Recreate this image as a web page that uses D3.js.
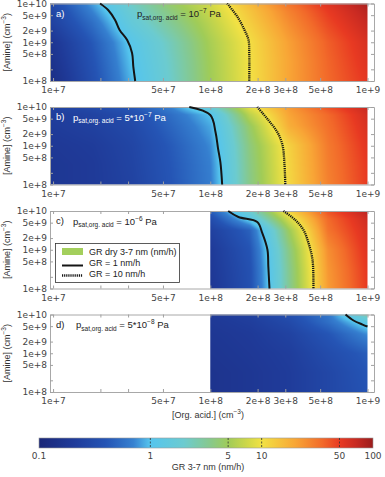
<!DOCTYPE html>
<html>
<head>
<meta charset="utf-8">
<script src="https://cdn.jsdelivr.net/npm/d3@7"></script>
<style>
  body { margin: 0; background: #fff; }
  svg { display: block; font-family: "Liberation Sans", Arial, sans-serif; }
  .axis .domain { stroke: #a8a8a8; }
  .axis line { stroke: #a0a0a0; }
  .axis text, .cblab { fill: #444; font-size: 9px; font-family: "DejaVu Sans", sans-serif; }
</style>
</head>
<body>
<svg id="chart" width="385" height="477"></svg>
<script>
// model grid: org. acid and amine concentrations (cm^-3)
const orgAcid = [1e7, 1.78e7, 3.16e7, 5.62e7, 1e8, 1.78e8, 3.16e8, 5.62e8, 1e9];
const amine = [1e8, 3.16e8, 1e9, 3.16e9, 6.31e9, 1e10];

// GR 3-7 nm (nm/h): one row per amine value, one column per org. acid value
const grA = [
  [0.14, 0.35, 0.93, 2.1, 5.0, 10, 20, 35, 52],
  [0.16, 0.38, 1.02, 2.2, 5.1, 10.2, 20, 36, 56],
  [0.18, 0.42, 1.12, 2.4, 5.4, 10.5, 21, 38, 60],
  [0.25, 0.56, 1.6, 3.2, 6.3, 12.6, 25, 45, 71],
  [0.28, 0.71, 1.9, 3.8, 7.1, 14, 28, 50, 79],
  [0.32, 0.83, 2.2, 4.5, 7.6, 16, 32, 56, 89]
];
const grB = [
  [0.18, 0.20, 0.25, 0.40, 0.67, 3.5, 11.2, 28, 50],
  [0.18, 0.20, 0.26, 0.41, 0.69, 3.6, 11.5, 29, 51],
  [0.19, 0.21, 0.27, 0.43, 0.74, 3.8, 12, 30, 54],
  [0.21, 0.24, 0.30, 0.50, 0.86, 4.5, 17.8, 33, 59],
  [0.22, 0.25, 0.33, 0.56, 1.0, 6.3, 20, 35, 63],
  [0.25, 0.30, 0.42, 0.71, 1.78, 9, 22, 42, 71]
];
const grC = [
  [null, null, null, null, 0.18, 0.35, 3.2, 22, 50],
  [null, null, null, null, 0.19, 0.36, 3.3, 23, 52],
  [null, null, null, null, 0.20, 0.39, 3.6, 25, 56],
  [null, null, null, null, 0.24, 0.47, 4.8, 32, 60],
  [null, null, null, null, 0.32, 1.2, 7.9, 35, 66],
  [null, null, null, null, 0.45, 2.0, 12, 42, 79]
];
const grD = [
  [null, null, null, null, 0.16, 0.18, 0.21, 0.28, 0.38],
  [null, null, null, null, 0.16, 0.18, 0.21, 0.28, 0.40],
  [null, null, null, null, 0.17, 0.19, 0.22, 0.32, 0.45],
  [null, null, null, null, 0.18, 0.20, 0.25, 0.40, 0.76],
  [null, null, null, null, 0.19, 0.22, 0.30, 0.56, 1.32],
  [null, null, null, null, 0.20, 0.24, 0.35, 0.63, 2.8]
];

// contour lines: [org. acid, amine]
const gr1A = [[1.99e7, 1e10], [2.24e7, 6.8e9], [2.48e7, 3.75e9], [2.65e7, 2.07e9], [2.96e7, 1.14e9], [3.18e7, 5.3e8], [3.24e7, 2.3e8], [3.33e7, 1e8]];
const gr10A = [[1.28e8, 1e10], [1.49e8, 4.5e9], [1.65e8, 2.07e9], [1.75e8, 1.14e9], [1.77e8, 5.3e8], [1.77e8, 1e8]];
const gr1B = [[7.35e7, 1e10], [1.0e8, 6.2e9], [1.08e8, 2.24e9], [1.12e8, 8.6e8], [1.16e8, 3.7e8], [1.19e8, 1e8]];
const gr10B = [[1.99e8, 1e10], [2.34e8, 4.6e9], [2.67e8, 2.24e9], [2.88e8, 1.03e9], [2.96e8, 3.7e8], [3.0e8, 1e8]];
const gr1C = [[1.30e8, 1e10], [1.51e8, 7.0e9], [1.99e8, 5.2e9], [2.14e8, 2.73e9], [2.31e8, 1e9], [2.34e8, 3.66e8], [2.38e8, 1e8]];
const gr10C = [[2.92e8, 1e10], [3.47e8, 5.9e9], [3.91e8, 3.26e9], [4.21e8, 1.51e9], [4.47e8, 5.5e8], [4.53e8, 1e8]];
const gr1D = [[7.25e8, 1e10], [8.15e8, 7.0e9], [9.3e8, 5.5e9], [1e9, 4.9e9]];
const gr10D = [];

const panelLabels = ["a)", "b)", "c)", "d)"];
const psatMantissa = ["10", "5*10", "10", "5*10"];
const psatExponent = ["\u22127", "\u22127", "\u22126", "\u22128"];

// axis ticks
const xTicks = [1e7, 2e7, 3e7, 5e7, 1e8, 2e8, 3e8, 5e8, 1e9];
const xTickLabels = [1e7, 5e7, 1e8, 2e8, 3e8, 5e8, 1e9];
const yTicks = [1e8, 2e8, 5e8, 1e9, 2e9, 5e9, 1e10];
const yTickLabels = [1e8, 5e8, 1e9, 2e9, 5e9, 1e10];
const xLimits = [9.56e6, 1.1e9];

// colour bar
const cbTicks = [0.1, 1, 5, 10, 50, 100];
const cmapGR = [0.1, 0.2, 0.4, 0.7, 1, 2, 3.5, 5, 7.5, 10, 20, 35, 50, 70, 100];
const cmapColors = ["#1a2778", "#1f3a98", "#2555b5", "#3680d0", "#55c5ee", "#6ccbd0", "#88c98a",
                    "#a0cc58", "#d0d848", "#f2e244", "#f8a636", "#f26a2a", "#e83a22", "#c82a22", "#9a1c1c"];

const fields = [grA, grB, grC, grD];
const gr1Lines = [gr1A, gr1B, gr1C, gr1D];
const gr10Lines = [gr10A, gr10B, gr10C, gr10D];

const svg = d3.select("#chart");
const panelTops = [3.5, 107, 211, 314.5];
const panelH = 77.5;
const boxL = 50, boxR = 374;

const color = d3.scaleLog().domain(cmapGR).range(cmapColors).clamp(true);
const x = d3.scaleLog().domain(xLimits).range([boxL, boxR]);

const sciFmt = v => {
  const e = Math.floor(Math.log10(v) + 1e-9);
  return Math.round(v / Math.pow(10, e)) + "e+" + e;
};

const lgX = orgAcid.map(Math.log10);
const lgY = amine.map(Math.log10);

// bilinear interpolation in log space (like shading interp)
function grAt(field, ox, am) {
  const lx = Math.max(lgX[0], Math.min(lgX[lgX.length - 1], Math.log10(ox)));
  const ly = Math.max(lgY[0], Math.min(lgY[lgY.length - 1], Math.log10(am)));
  let i = Math.min(d3.bisectRight(lgX, lx) - 1, lgX.length - 2);
  let j = Math.min(d3.bisectRight(lgY, ly) - 1, lgY.length - 2);
  const v00 = field[j][i], v10 = field[j][i + 1], v01 = field[j + 1][i], v11 = field[j + 1][i + 1];
  if (v00 == null || v10 == null || v01 == null || v11 == null) return null;
  const tx = (lx - lgX[i]) / (lgX[i + 1] - lgX[i]);
  const ty = (ly - lgY[j]) / (lgY[j + 1] - lgY[j]);
  const l = (1 - tx) * (1 - ty) * Math.log10(v00) + tx * (1 - ty) * Math.log10(v10)
          + (1 - tx) * ty * Math.log10(v01) + tx * ty * Math.log10(v11);
  return Math.pow(10, l);
}

function supText(sel, base, sup, tail, size, supSize) {
  sel.append("tspan").text(base);
  sel.append("tspan").attr("font-size", supSize).attr("dy", -size * 0.4).text(sup);
  sel.append("tspan").attr("dy", size * 0.4).text(tail);
}

fields.forEach((field, p) => {
  const top = panelTops[p];
  const y = d3.scaleLog().domain([1e8, 1e10]).range([top + panelH, top]);
  const g = svg.append("g");
  const firstCol = field[0].findIndex(d => d != null);

  // field image
  const x0 = firstCol > 0 ? x(orgAcid[firstCol]) : boxL, x1 = x(orgAcid[orgAcid.length - 1]);
  const W = Math.round(x1 - x0), H = Math.round(panelH);
  const canvas = document.createElement("canvas");
  canvas.width = W; canvas.height = H;
  const ctx = canvas.getContext("2d");
  const img = ctx.createImageData(W, H);
  for (let r = 0; r < H; r++) {
    const am = y.invert(top + (r + 0.5) * panelH / H);
    for (let c = 0; c < W; c++) {
      const ox = x.invert(x0 + (c + 0.5) * (x1 - x0) / W);
      const k = (r * W + c) * 4;
      const v = grAt(field, Math.max(ox, orgAcid[Math.max(firstCol, 0)]), am);
      if (v == null) { img.data[k + 3] = 0; continue; }
      const col = d3.rgb(color(v));
      img.data[k] = col.r; img.data[k + 1] = col.g; img.data[k + 2] = col.b; img.data[k + 3] = 255;
    }
  }
  ctx.putImageData(img, 0, 0);
  g.append("image")
    .attr("x", x0).attr("y", top).attr("width", x1 - x0).attr("height", panelH)
    .attr("preserveAspectRatio", "none")
    .attr("href", canvas.toDataURL());

  // axes
  g.append("g").attr("class", "axis").attr("transform", `translate(0,${top + panelH})`)
    .call(d3.axisBottom(x).tickValues(xTicks).tickSizeInner(-3).tickSizeOuter(0).tickPadding(6)
      .tickFormat(d => xTickLabels.includes(d) ? sciFmt(d) : ""));
  g.append("g").attr("class", "axis").attr("transform", `translate(0,${top})`)
    .call(d3.axisTop(x).tickValues(xTicks).tickSizeInner(-3).tickSizeOuter(0).tickFormat(""));
  g.append("g").attr("class", "axis").attr("transform", `translate(${boxL},0)`)
    .call(d3.axisLeft(y).tickValues(yTicks).tickSizeInner(-3).tickSizeOuter(0).tickPadding(3)
      .tickFormat(d => yTickLabels.includes(d) ? sciFmt(d) : ""));
  g.append("g").attr("class", "axis").attr("transform", `translate(${boxR},0)`)
    .call(d3.axisRight(y).tickValues(yTicks).tickSizeInner(-3).tickSizeOuter(0).tickFormat(""));

  // contour lines
  const line = d3.line().x(d => x(d[0])).y(d => y(d[1])).curve(d3.curveCatmullRom.alpha(0.5));
  g.append("path").datum(gr1Lines[p]).attr("d", line)
    .attr("fill", "none").attr("stroke", "#151515").attr("stroke-width", 2);
  if (gr10Lines[p].length)
    g.append("path").datum(gr10Lines[p]).attr("d", line)
      .attr("fill", "none").attr("stroke", "#151515").attr("stroke-width", 2.3)
      .attr("stroke-dasharray", "1.2,0.9");

  // annotations
  const light = p < 2;
  g.append("text").attr("x", 56).attr("y", top + 13).attr("font-size", 9.5)
    .attr("fill", light ? "#fff" : "#222").text(panelLabels[p]);
  const psatX = [137, 73, 73, 76][p];
  const t = g.append("text").attr("x", psatX).attr("y", top + 13.5).attr("font-size", 9.5)
    .attr("fill", p === 1 ? "#fff" : "#222");
  t.append("tspan").text("p");
  t.append("tspan").attr("font-size", 6.5).attr("dy", 2.8).text("sat,org. acid");
  t.append("tspan").attr("dy", -2.8).text(" = " + psatMantissa[p]);
  t.append("tspan").attr("font-size", 6.5).attr("dy", -4).text(psatExponent[p]);
  t.append("tspan").attr("dy", 4).text(" Pa");

  // y label
  const yl = g.append("text").attr("transform", `translate(10,${top + panelH / 2}) rotate(-90)`)
    .attr("text-anchor", "middle").attr("font-size", 9).attr("fill", "#333");
  supText(yl, "[Amine] (cm", "\u22123", ")", 9, 6.5);
});

// legend in panel c
const lg = svg.append("g");
const lt = panelTops[2];
lg.append("rect").attr("x", 55.5).attr("y", lt + 32.5).attr("width", 124).attr("height", 39)
  .attr("fill", "#fff").attr("stroke", "#333").attr("stroke-width", 0.8);
lg.append("rect").attr("x", 62).attr("y", lt + 37).attr("width", 21).attr("height", 7).attr("fill", "#a3cf5c");
lg.append("line").attr("x1", 62).attr("x2", 83).attr("y1", lt + 54.5).attr("y2", lt + 54.5)
  .attr("stroke", "#151515").attr("stroke-width", 2);
lg.append("line").attr("x1", 62).attr("x2", 83).attr("y1", lt + 64.5).attr("y2", lt + 64.5)
  .attr("stroke", "#151515").attr("stroke-width", 2.3).attr("stroke-dasharray", "1.2,0.9");
["GR dry 3-7 nm (nm/h)", "GR = 1 nm/h", "GR = 10 nm/h"].forEach((s, i) => {
  lg.append("text").attr("x", 89).attr("y", lt + 44 + i * 11).attr("font-size", 9).attr("fill", "#222").text(s);
});

// x label
const xl = svg.append("text").attr("x", 208).attr("y", 418).attr("text-anchor", "middle")
  .attr("font-size", 9).attr("fill", "#333");
supText(xl, "[Org. acid.] (cm", "\u22123", ")", 9, 6.5);

// colour bar
const cb = d3.scaleLog().domain([0.1, 100]).range([39, 373]);
const grad = svg.append("defs").append("linearGradient").attr("id", "cbgrad");
d3.range(0, 61).forEach(k => {
  const v = Math.pow(10, -1 + 3 * k / 60);
  grad.append("stop").attr("offset", (k / 60 * 100) + "%").attr("stop-color", color(v));
});
svg.append("rect").attr("x", cb(0.1)).attr("y", 438).attr("width", cb(100) - cb(0.1)).attr("height", 10)
  .attr("fill", "url(#cbgrad)").attr("stroke", "#999").attr("stroke-width", 0.6);
svg.selectAll(".cbtick").data(cbTicks.slice(1, -1)).enter().append("line")
  .attr("x1", d => cb(d)).attr("x2", d => cb(d)).attr("y1", 438).attr("y2", 448)
  .attr("stroke", "#333").attr("stroke-width", 0.8).attr("stroke-dasharray", "2,1.5");
svg.selectAll(".cblab").data(cbTicks).enter().append("text").attr("class", "cblab")
  .attr("x", d => cb(d)).attr("y", 459).attr("text-anchor", "middle").text(d => d);
svg.append("text").attr("x", 208).attr("y", 470).attr("text-anchor", "middle")
  .attr("font-size", 9).attr("fill", "#333").text("GR 3-7 nm (nm/h)");
</script>
</body>
</html>
